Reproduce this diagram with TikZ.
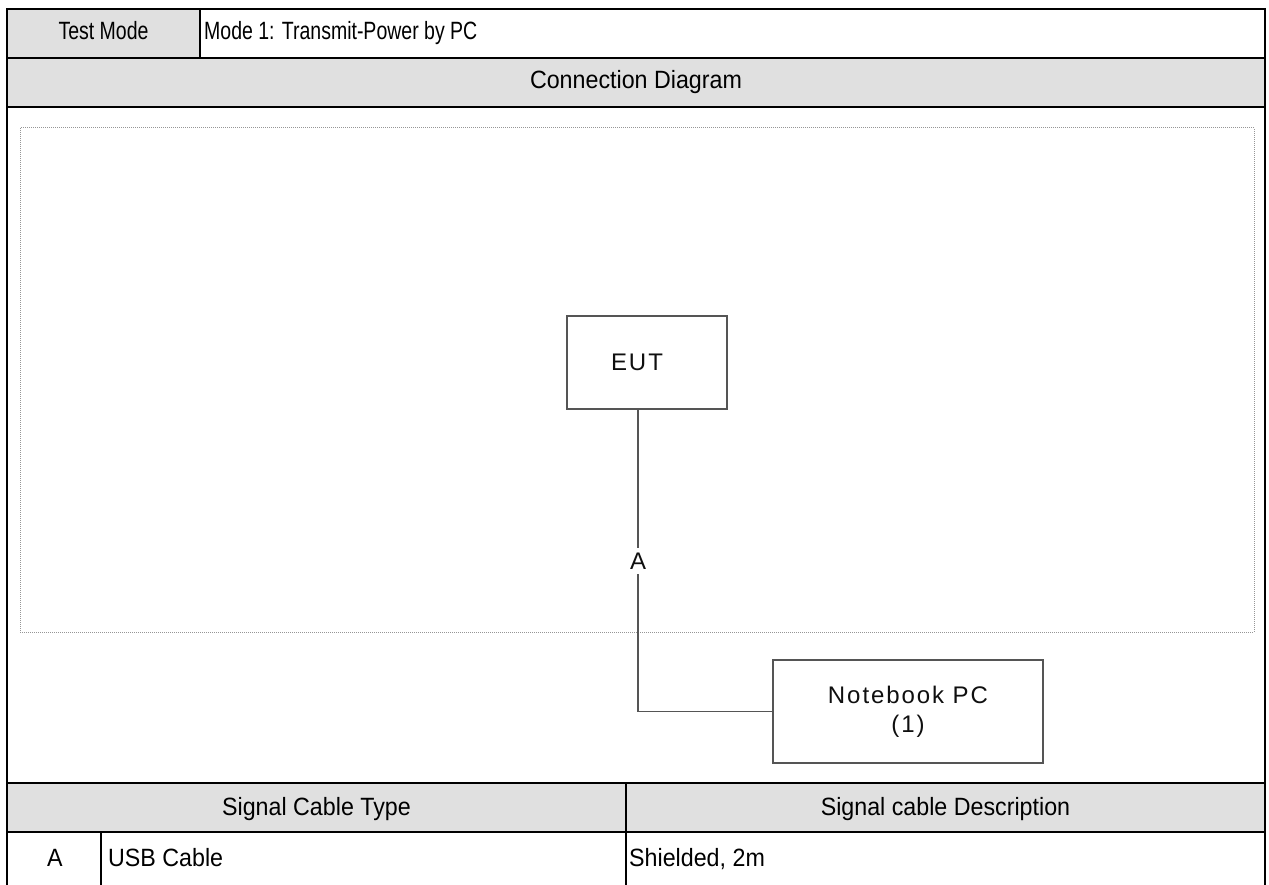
\documentclass[tikz,border=0pt]{standalone}
\usepackage{fontspec}
\setmainfont{Liberation Sans}
\newfontfamily\cellfont[FakeStretch=0.93]{Liberation Sans}
\newfontfamily\titlefont[FakeStretch=0.93]{Liberation Sans}
\newfontfamily\topfont[FakeStretch=0.78]{Liberation Sans}
\newfontfamily\boxfont[LetterSpace=8]{Liberation Sans}
\usetikzlibrary{calc}

\definecolor{headgray}{RGB}{224,224,224}
\definecolor{rulegray}{RGB}{85,85,85}
\definecolor{dotgray}{RGB}{150,150,150}
\definecolor{boxtext}{RGB}{15,15,15}

\tikzset{
  cell/.style={inner sep=0pt, anchor=base, font=\cellfont\fontsize{25}{30}\selectfont, text=black},
  topcell/.style={cell, font=\topfont\fontsize{25}{30}\selectfont},
  titlecell/.style={cell, font=\titlefont\fontsize{25}{30}\selectfont},
  unit/.style={draw=rulegray, line width=1.3pt, fill=white, inner sep=0pt},
  unittext/.style={inner sep=0pt, font=\boxfont\fontsize{24}{29}\selectfont,
                   text=boxtext, align=center},
  cable/.style={draw=rulegray, line width=1.3pt},
  frame/.style={draw=black, line width=2.6pt},
  area/.style={draw=dotgray, line width=1pt, densely dotted},
}

\begin{document}
\begin{tikzpicture}[x=1pt, y=-1pt]
  \useasboundingbox (0,0) rectangle (1269,885);
  \fill[white] (0,0) rectangle (1269,885);

  % header fills
  \fill[headgray] (7,9) rectangle (200,58);
  \fill[headgray] (7,58) rectangle (1265,107);
  \fill[headgray] (7,783) rectangle (1265,832);

  % dotted drawing area
  \draw[area] (20,128) rectangle (1254,632);

  % table rules
  \draw[frame] (7,887) -- (7,9) -- (1265,9) -- (1265,887);
  \draw[frame] (7,58) -- (1265,58);
  \draw[frame] (7,107) -- (1265,107);
  \draw[frame] (7,783) -- (1265,783);
  \draw[frame] (7,832) -- (1265,832);
  \draw[frame] (200,9) -- (200,58);
  \draw[frame] (626,783) -- (626,887);
  \draw[frame] (101,832) -- (101,887);

  % table texts
  \node[topcell] (tmlabel) at (103.5,40) {Test Mode};
  \node[topcell, anchor=base west] (tmvalue) at (204,40) {Mode 1: Transmit-Power by PC};
  \node[titlecell] (cdtitle) at (636,89) {Connection Diagram};
  \node[cell] (sctype) at (316.5,815) {Signal Cable Type};
  \node[cell] (scdesc) at (945.5,815) {Signal cable Description};
  \node[cell] (rowid) at (55,866) {A};
  \node[cell, anchor=base west] (rowtype) at (108,866) {USB Cable};
  \node[cell, anchor=base west] (rowdesc) at (629,866) {Shielded, 2m};

  % units
  \node[unit, minimum width=160pt, minimum height=93pt] (eut) at (647,362.5) {};
  \node[unittext] (euttext) at ([xshift=-10pt]eut.center) {EUT};
  \node[unit, minimum width=270pt, minimum height=103pt] (pc) at (908,711.5) {};
  \node[unittext] (pctext) at (pc.center) {Notebook PC\\(1)};

  % cable A
  \node[unittext, minimum height=26pt] (cabA) at (638,561) {A};
  \draw[cable] (eut.south -| cabA.north) -- (cabA.north);
  \draw[cable] (cabA.south) -- (cabA.south |- pc.west) -- (pc.west);
\end{tikzpicture}
\end{document}
